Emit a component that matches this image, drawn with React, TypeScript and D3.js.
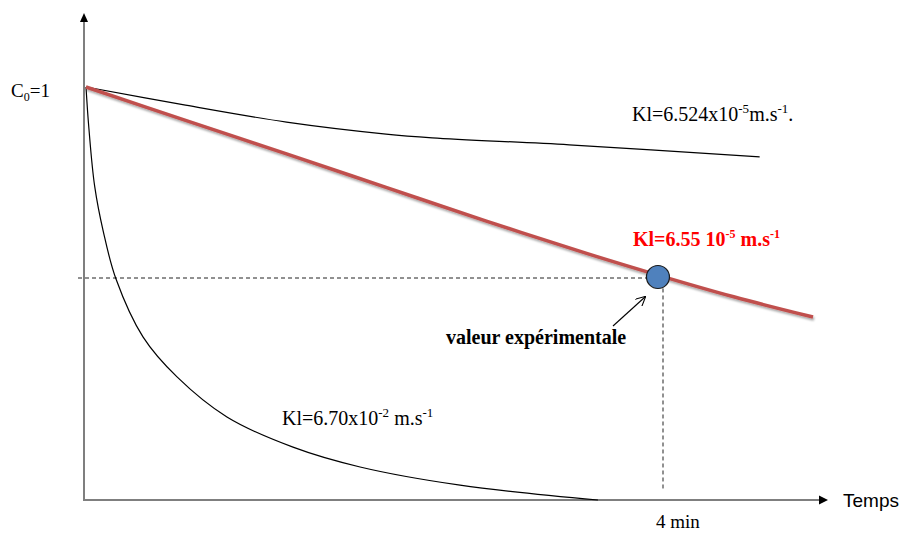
import React from "react";
import * as d3 from "d3";

// Time (min) and normalised concentration C/C0 for each curve
const upperT = [0, 0.69, 1.39, 2.08, 2.4, 3.35, 4.67];
const upperC = [1, 0.956, 0.915, 0.886, 0.877, 0.86, 0.831];
const redT = [0, 0.69, 1.39, 2.08, 2.77, 3.47, 3.97, 4.49, 5.04];
const redC = [1, 0.919, 0.838, 0.757, 0.676, 0.597, 0.544, 0.492, 0.443];
const lowT = [0, 0.02, 0.06, 0.12, 0.208, 0.395, 0.631, 0.977, 1.435, 1.9, 2.593, 3.549];
const lowC = [1, 0.9, 0.76, 0.65, 0.535, 0.395, 0.298, 0.201, 0.128, 0.08, 0.036, 0];

const expT = [3.965];
const expC = [0.54];
const refT = 4;
const refC = 0.5375;

const W = 906;
const H = 533;

export default function App() {
  const x = d3.scaleLinear().domain([0, 4]).range([86, 663]);
  const y = d3.scaleLinear().domain([0, 1]).range([500, 87]);

  const line = d3
    .line<[number, number]>()
    .x((d) => x(d[0]))
    .y((d) => y(d[1]))
    .curve(d3.curveCatmullRom.alpha(0.5));

  const zip = (t: number[], c: number[]) => t.map((v, i) => [v, c[i]] as [number, number]);

  const serif = "Liberation Serif, Tinos, Times New Roman, DejaVu Serif, serif";
  const sans = "Liberation Sans, Arimo, Arial, sans-serif";
  const axisColor = "#7f7f7f";

  const ex = x(expT[0]);
  const ey = y(expC[0]);
  const r = 11.5;

  return (
    <svg
      width={W}
      height={H}
      style={{ position: "absolute", left: 0, top: 0, background: "#fff" }}
    >
      <defs>
        <filter id="shadow" x="-10%" y="-10%" width="120%" height="130%">
          <feDropShadow dx="1" dy="2" stdDeviation="1.2" floodColor="#000" floodOpacity="0.35" />
        </filter>
        <marker id="openArrow" viewBox="0 0 10 10" refX="9" refY="5" markerWidth="9" markerHeight="9" orient="auto">
          <path d="M0,0 L10,5 L0,10" fill="none" stroke="#000" strokeWidth="1.1" />
        </marker>
      </defs>

      {/* axes */}
      <line x1={x(0) - 2} x2={x(0) - 2} y1={y(0) + 1} y2={22} stroke={axisColor} strokeWidth={2} />
      <path d={`M${x(0) - 6},22 L${x(0) + 2},22 L${x(0) - 2},13 Z`} fill="#000" />
      <line x1={x(0) - 3} x2={819} y1={y(0)} y2={y(0)} stroke={axisColor} strokeWidth={2} />
      <path d={`M819,${y(0) - 4.5} L819,${y(0) + 4.5} L828,${y(0)} Z`} fill="#000" />

      {/* dashed reference lines */}
      <line
        x1={78}
        x2={ex - r}
        y1={y(refC)}
        y2={y(refC)}
        stroke="#222"
        strokeWidth={1}
        strokeDasharray="4,3"
      />
      <line
        x1={x(refT)}
        x2={x(refT)}
        y1={ey + r}
        y2={y(0) - 10}
        stroke="#222"
        strokeWidth={1}
        strokeDasharray="4,3"
      />

      {/* curves */}
      <path d={line(zip(upperT, upperC)) || ""} fill="none" stroke="#000" strokeWidth={1.2} />
      <path d={line(zip(lowT, lowC)) || ""} fill="none" stroke="#000" strokeWidth={1.2} />
      <path
        d={line(zip(redT, redC)) || ""}
        fill="none"
        stroke="#c0504d"
        strokeWidth={3.5}
        filter="url(#shadow)"
      />

      {/* experimental point */}
      <circle cx={ex} cy={ey} r={r} fill="#4f81bd" stroke="#1a1a1a" strokeWidth={1.2} />

      {/* annotation arrow */}
      <line x1={613} y1={326} x2={645} y2={297} stroke="#000" strokeWidth={1.1} markerEnd="url(#openArrow)" />

      {/* texts */}
      <text x={11} y={97} fontFamily={serif} fontSize={19} fill="#000">
        C<tspan fontSize={12} dy={4}>0</tspan>
        <tspan dy={-4}>=1</tspan>
      </text>

      <text x={632} y={121} fontFamily={serif} fontSize={20} fill="#000">
        Kl=6.524x10<tspan fontSize={13} dy={-8}>-5</tspan>
        <tspan dy={8}>m.s</tspan>
        <tspan fontSize={13} dy={-8}>-1</tspan>
        <tspan dy={8}>.</tspan>
      </text>

      <text x={633} y={246} fontFamily={serif} fontSize={20} fontWeight="bold" fill="#ff0000">
        Kl=6.55 10<tspan fontSize={12} dy={-8}>-5</tspan>
        <tspan dy={8}> m.s</tspan>
        <tspan fontSize={12} dy={-8}>-1</tspan>
      </text>

      <text x={446} y={344} fontFamily={serif} fontSize={20} fontWeight="bold" fill="#000">
        valeur expérimentale
      </text>

      <text x={282} y={425} fontFamily={serif} fontSize={20} fill="#000">
        Kl=6.70x10<tspan fontSize={13} dy={-8}>-2</tspan>
        <tspan dy={8}> m.s</tspan>
        <tspan fontSize={13} dy={-8}>-1</tspan>
      </text>

      <text x={656} y={528} fontFamily={serif} fontSize={19} fill="#000">
        4 min
      </text>

      <text x={843} y={507} fontFamily={sans} fontSize={19} fill="#000">
        Temps
      </text>
    </svg>
  );
}
